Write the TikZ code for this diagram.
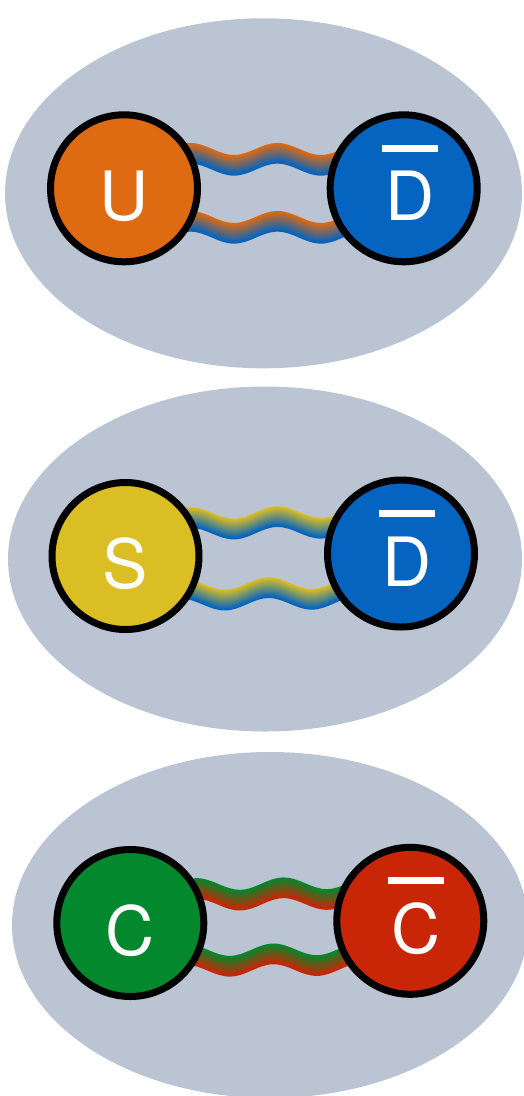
\documentclass[tikz,border=0pt]{standalone}
\usepackage{fontspec}
\setmainfont{TeX Gyre Heros}
\usetikzlibrary{decorations.pathmorphing}
\usetikzlibrary{backgrounds}

\definecolor{mesonbg}{RGB}{187,196,210}
\definecolor{qorange}{RGB}{222,106,18}
\definecolor{qblue}{RGB}{4,100,192}
\definecolor{qyellow}{RGB}{219,190,36}
\definecolor{qgreen}{RGB}{4,136,45}
\definecolor{qred}{RGB}{200,38,6}

\newcommand{\antiq}[1]{\hspace*{12pt}\ooalign{\hfil\raisebox{69pt}{\rule{56pt}{7pt}}\hfil\cr\hfil#1\hfil\cr}}

\tikzset{
    quark/.style={circle, draw=black, line width=7pt, fill=#1, minimum size=147pt, inner sep=0pt,
                  text=white, font=\fontsize{68}{70}\selectfont, text height=65pt, text depth=0pt},
    gluon/.style={decorate, decoration={snake, segment length=87pt, amplitude=6pt, pre length=#1pt}},
}

% gluon: from, to, shift, pre length, top colour, bottom colour
\newcommand{\gluon}[6]{%
    \foreach \k in {0,...,20}{
        \pgfmathsetmacro{\dy}{#3+9.6-0.96*\k}
        \pgfmathtruncatemacro{\mix}{100-5*\k}
        \draw[gluon=#4, line width=1.5pt, #5!\mix!#6]
            ([yshift=\dy pt]#1.center) -- ([yshift=\dy pt]#2.center);
    }}

\begin{document}
\begin{tikzpicture}[x=1pt, y=-1pt]
                    \useasboundingbox (0,0) rectangle (524,1096);

                    \begin{scope}[on background layer]
                        \fill[mesonbg] (263.5,193.3) ellipse (258.5 and 175);
                        \fill[mesonbg] (265,559) ellipse (257 and 172.5);
                        \fill[mesonbg] (270,925) ellipse (258 and 173);
                    \end{scope}

                    \node[quark=qorange](u)at(124,188.3){U};
                    \node[quark=qblue](dbar1)at(403.7,188.3){\antiq{D}};

                    \node[quark=qyellow](s)at(125.5,556){S};
                    \node[quark=qblue](dbar2)at(401,553.5){\antiq{D}};

                    \node[quark=qgreen](c)at(130.3,923){C};
                    \node[quark=qred](cbar)at(410.3,920.8){\antiq{C}};

                    \begin{scope}[on background layer]
                        \gluon{u}{dbar1}{29}{39.25}{qorange}{qblue}
                        \gluon{u}{dbar1}{-39}{39.25}{qorange}{qblue}
                        \gluon{s}{dbar2}{32}{37.75}{qyellow}{qblue}
                        \gluon{s}{dbar2}{-39}{28.75}{qyellow}{qblue}
                        \gluon{c}{cbar}{28}{38.95}{qgreen}{qred}
                        \gluon{c}{cbar}{-38}{28.95}{qgreen}{qred}
                    \end{scope}
                \end{tikzpicture}
\end{document}
